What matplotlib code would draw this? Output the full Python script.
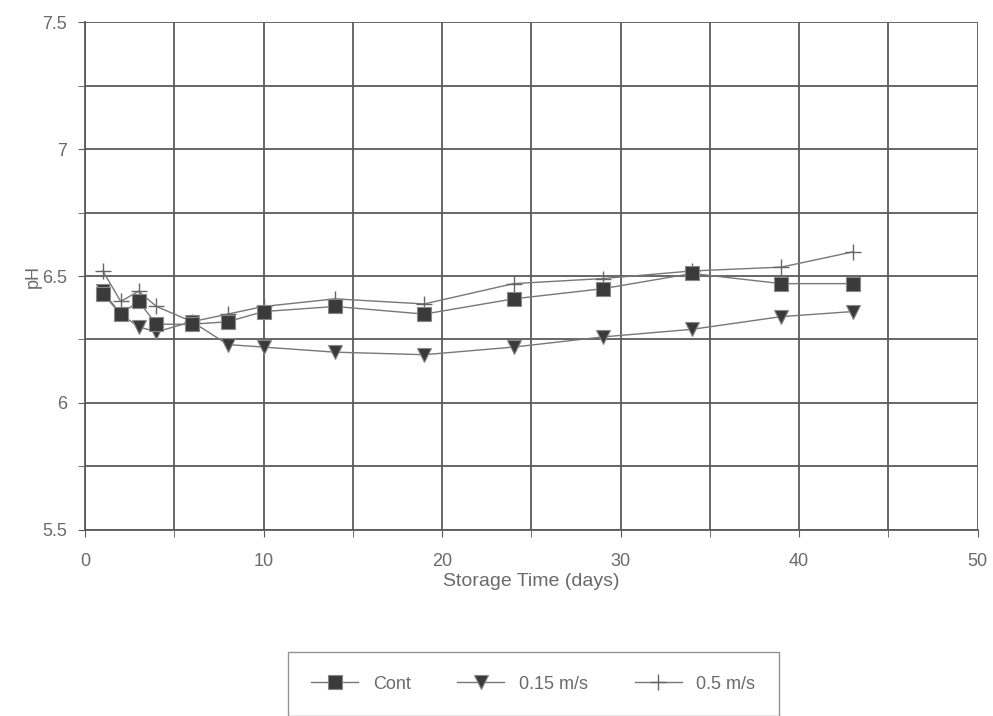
import numpy as np
import matplotlib
matplotlib.use("Agg")
import matplotlib.pyplot as plt
from matplotlib.ticker import MultipleLocator, FuncFormatter

days = [1, 2, 3, 4, 6, 8, 10, 14, 19, 24, 29, 34, 39, 43]
ph_cont = [6.43, 6.35, 6.40, 6.31, 6.31, 6.32, 6.36, 6.38, 6.35, 6.41, 6.45, 6.51, 6.47, 6.47]
ph_015 = [6.44, 6.35, 6.30, 6.28, 6.32, 6.23, 6.22, 6.20, 6.19, 6.22, 6.26, 6.29, 6.34, 6.36]
ph_05 = [6.52, 6.40, 6.44, 6.38, 6.32, 6.35, 6.38, 6.41, 6.39, 6.47, 6.49, 6.52, 6.535, 6.595]

INK = "#3a3a3a"; TXT = "#6a6a6a"; GRID = "#5a5a5a"

plt.rcParams.update({"font.family": "Liberation Sans", "font.size": 12})
fig = plt.figure(figsize=(9.93, 7.16), dpi=100)
ax = fig.add_axes([0.0856, 0.26, 0.899, 0.709])

ax.plot(days, ph_cont, color="#777777", lw=1.0, marker="s", ms=10,
        mfc=INK, mec="#888888", mew=0.8, label="Cont", zorder=4)
ax.plot(days, ph_015, color="#777777", lw=1.0, marker="v", ms=10,
        mfc=INK, mec="#888888", mew=0.8, label="0.15 m/s", zorder=3)
ax.plot(days, ph_05, color="#777777", lw=1.0, marker="+", ms=11,
        mec="#666666", mew=1.0, label="0.5 m/s", zorder=2)

ax.set_xlim(0, 50); ax.set_ylim(5.5, 7.5)
ax.xaxis.set_major_locator(MultipleLocator(10)); ax.xaxis.set_minor_locator(MultipleLocator(5))
ax.yaxis.set_major_locator(MultipleLocator(0.5)); ax.yaxis.set_minor_locator(MultipleLocator(0.25))
ax.yaxis.set_major_formatter(FuncFormatter(lambda v, p: f"{v:g}"))
ax.grid(True, which="both", color=GRID, lw=1.3)
ax.set_axisbelow(True)
for s in ["top", "right"]:
    ax.spines[s].set_visible(False)
for s in ["left", "bottom"]:
    ax.spines[s].set_color(GRID); ax.spines[s].set_linewidth(1.3)
ax.tick_params(which="both", colors=GRID, labelcolor=TXT, labelsize=13, length=5)
ax.tick_params(axis="x", pad=12)
ax.tick_params(axis="y", pad=8)
ax.set_xlabel("Storage Time (days)", color=TXT, fontsize=14, labelpad=2)
ax.set_ylabel("pH", color=TXT, fontsize=13, labelpad=0)

leg = fig.legend(loc="lower center", bbox_to_anchor=(0.537, 0.0), ncol=3,
                 frameon=True, fancybox=False, edgecolor="#777777", fontsize=13,
                 handlelength=2.6, columnspacing=2.6, borderpad=1.3, borderaxespad=0)
for t in leg.get_texts():
    t.set_color(TXT)

fig.savefig("out.png", dpi=100)
